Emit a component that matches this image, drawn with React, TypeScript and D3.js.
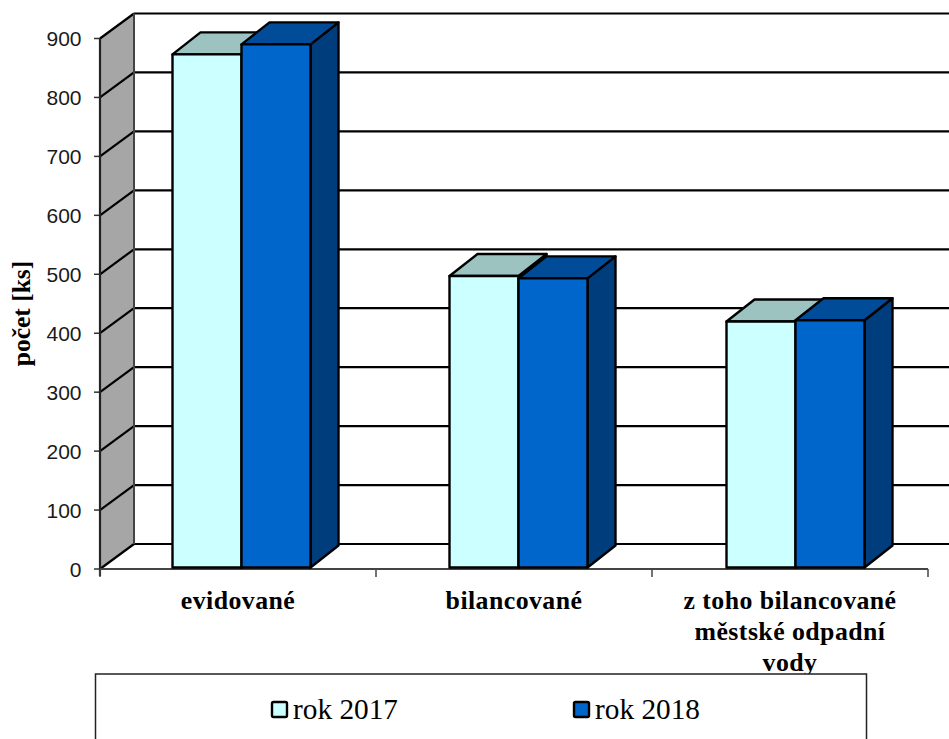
import React from "react";
import * as d3 from "d3";

// Počet výustí podle kategorií, roky 2017 a 2018
const categories = ["evidované", "bilancované", "z toho bilancované"];
const categoryLabels = [["evidované"], ["bilancované"], ["z toho bilancované", "městské odpadní", "vody"]];
const rok2017 = [873, 497, 420];
const rok2018 = [890, 493, 422];
const seriesNames = ["rok 2017", "rok 2018"];
const yTicks = [0, 100, 200, 300, 400, 500, 600, 700, 800, 900];

const W = 949;
const H = 739;
const x0 = 100;
const y0 = 569;
const yTop = 38.5;
const wallDx = 34;
const wallDy = 25;
const barDx = 28;
const barDy = 22;
const ink = "#000";

const y = d3.scaleLinear().domain([0, 900]).range([y0, yTop]);
const band = d3.scaleBand<string>().domain(categories).range([103, 934]).paddingInner(0).paddingOuter(0);
const tickScale = d3.scaleBand<string>().domain(categories).range([x0, 928]);
const barWidth = 69;

const faces = [
  { front: "#ccffff", top: "#9cc3c0", side: "#9cc3c0" },
  { front: "#0066cc", top: "#004c99", side: "#003d7d" },
];

function pts(list: [number, number][]) {
  return list.map((p) => p.join(",")).join(" ");
}

function Bar({ x, value, c }: { x: number; value: number; c: (typeof faces)[number] }) {
  const t = y(value);
  const b = y0 - 1.5;
  const r = x + barWidth;
  return (
    <g stroke={ink} strokeWidth={2.4} strokeLinejoin="round">
      <polygon fill={c.side} points={pts([[r, b], [r + barDx, b - barDy], [r + barDx, t - barDy], [r, t]])} />
      <polygon fill={c.top} points={pts([[x, t], [x + barDx, t - barDy], [r + barDx, t - barDy], [r, t]])} />
      <rect x={x} y={t} width={barWidth} height={b - t} fill={c.front} />
    </g>
  );
}

export default function App() {
  return (
    <svg width={W} height={H} style={{ position: "absolute", left: 0, top: 0, background: "#fff" }}>
      {/* boční stěna */}
      <polygon
        fill="#a6a6a6"
        stroke="none"
        points={pts([[x0, y0], [x0 + wallDx, y0 - wallDy], [x0 + wallDx, y(900) - wallDy], [x0, y(900)]])}
      />
      {/* mřížka na zadní a boční stěně */}
      {yTicks.map((t) => (
        <g key={t} stroke={ink} strokeWidth={2.2}>
          <line x1={x0 + wallDx} x2={W} y1={y(t) - wallDy} y2={y(t) - wallDy} />
          <line x1={x0} x2={x0 + wallDx} y1={y(t)} y2={y(t) - wallDy} />
          <line x1={x0 - 6} x2={x0} y1={y(t)} y2={y(t)} strokeWidth={1.5} stroke="#333" />
        </g>
      ))}
      <line x1={x0} x2={x0} y1={yTop} y2={y0 + 7} stroke="#222" strokeWidth={2.2} />
      <line x1={x0 + wallDx} x2={x0 + wallDx} y1={y(900) - wallDy} y2={y0 - wallDy} stroke="#444" strokeWidth={2} />

      {/* osa x */}
      <line x1={x0} x2={928} y1={y0} y2={y0} stroke="#444" strokeWidth={2} />
      {categories.map((c) => (
        <line
          key={c}
          x1={tickScale(c)!}
          x2={tickScale(c)!}
          y1={y0}
          y2={y0 + 8}
          stroke="#444"
          strokeWidth={1.5}
        />
      ))}
      <line x1={928} x2={928} y1={y0} y2={y0 + 8} stroke="#444" strokeWidth={1.5} />

      {/* sloupce */}
      {categories.map((c, i) => {
        const center = band(c)! + band.bandwidth() / 2;
        return (
          <g key={c}>
            <Bar x={center - barWidth} value={rok2017[i]} c={faces[0]} />
            <Bar x={center} value={rok2018[i]} c={faces[1]} />
          </g>
        );
      })}

      {/* popisky osy y */}
      {yTicks.map((t) => (
        <text
          key={t}
          x={81.5}
          y={y(t) + 7.5}
          textAnchor="end"
          fontFamily="'Liberation Sans', Arial, sans-serif"
          fontSize={21}
          fill="#1a1a1a"
        >
          {t}
        </text>
      ))}
      <text
        transform="translate(30,313.5) rotate(-90)"
        textAnchor="middle"
        fontFamily="'Liberation Serif', serif"
        fontWeight="bold"
        fontSize={25.5}
        fill="#000"
      >
        počet [ks]
      </text>

      {/* popisky kategorií */}
      {categories.map((c, i) => (
        <text
          key={c}
          textAnchor="middle"
          fontFamily="'Liberation Serif', serif"
          fontWeight="bold"
          fontSize={25.8}
          letterSpacing={0.45}
          fill="#000"
        >
          {categoryLabels[i].map((line, j) => (
            <tspan key={line} x={tickScale(c)! + tickScale.bandwidth() / 2} y={609 + j * 31}>
              {line}
            </tspan>
          ))}
        </text>
      ))}

      {/* legenda */}
      <rect x={95.5} y={674} width={771} height={80} fill="#fff" stroke="#222" strokeWidth={1.5} />
      {seriesNames.map((name, i) => {
        const lx = 272 + i * 302;
        return (
          <g key={name}>
            <rect x={lx} y={702} width={15} height={15} rx={1.5} fill={faces[i].front} stroke={ink} strokeWidth={2.4} />
            <text x={lx + 21} y={719} fontFamily="'Liberation Serif', serif" fontSize={29.3} fill="#000">
              {name}
            </text>
          </g>
        );
      })}
    </svg>
  );
}
